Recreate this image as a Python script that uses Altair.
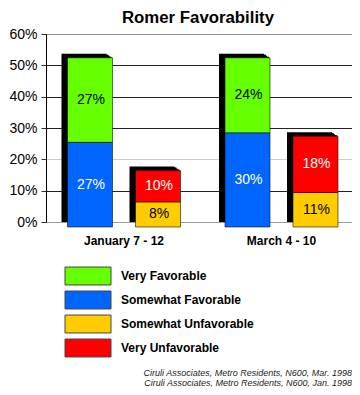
import altair as alt
import pandas as pd

FONT = "Liberation Sans"

title_text = "Romer Favorability"
dates = ["January 7 - 12", "March 4 - 10"]
categories = ["Very Favorable", "Somewhat Favorable", "Somewhat Unfavorable", "Very Unfavorable"]
very_favorable = [27, 24]
somewhat_favorable = [27, 30]
somewhat_unfavorable = [8, 11]
very_unfavorable = [10, 18]
colors = ["#66ff00", "#0066ff", "#ffcc00", "#ff0000"]
y_ticks = [0, 10, 20, 30, 40, 50, 60]
sources = [
    "Ciruli Associates, Metro Residents, N600,  Mar. 1998",
    "Ciruli Associates, Metro Residents, N600,  Jan. 1998",
]

series = {
    "Very Favorable": very_favorable,
    "Somewhat Favorable": somewhat_favorable,
    "Somewhat Unfavorable": somewhat_unfavorable,
    "Very Unfavorable": very_unfavorable,
}
group_of = {"Very Favorable": "fav", "Somewhat Favorable": "fav",
            "Somewhat Unfavorable": "unf", "Very Unfavorable": "unf"}
order_of = {"Somewhat Favorable": 0, "Very Favorable": 1,
            "Somewhat Unfavorable": 0, "Very Unfavorable": 1}

rows = []
for cat in categories:
    for d, v in zip(dates, series[cat]):
        rows.append({"date": d, "category": cat, "group": group_of[cat],
                     "order": order_of[cat], "value": v})
df = pd.DataFrame(rows)

x_enc = alt.X(
    "date:N", sort=dates,
    scale=alt.Scale(domain=dates, paddingInner=0.2, paddingOuter=0.0714, align=0.667),
    axis=alt.Axis(title=None, labelFont=FONT, labelFontSize=12, labelFontWeight="bold",
                  labelColor="black", labelPadding=13, ticks=False, domain=False,
                  labelAngle=0),
)
y_scale = alt.Scale(domain=[0, 60], nice=False, zero=True)
y_axis = alt.Axis(
    title=None, values=y_ticks, labelExpr="datum.value + '%'",
    labelFont=FONT, labelFontSize=14, labelColor="black", labelPadding=4,
    tickSize=5, tickColor="#333333", domainColor="black", domainWidth=1,
    grid=True,
    gridColor={"condition": {"test": "datum.value === 0 || datum.value === 20", "value": "#9a9a9a"},
               "value": "#222222"},
    gridDash={"condition": {"test": "datum.value === 20 || datum.value === 60", "value": [1, 1]},
              "value": []},
    gridWidth=1,
)
color_enc = alt.Color("category:N", scale=alt.Scale(domain=categories, range=colors), legend=None)

base = alt.Chart(df)
shadow_steps = [(-6, 1), (-5, 2), (-4, 2), (-3, 3), (-2, 4), (-1, 4)]
layers = []
for grp, xo in [("fav", -34), ("unf", 34)]:
    g = base.transform_filter(alt.datum.group == grp)
    for dx, dy in shadow_steps:
        layers.append(
            g.mark_bar(color="black", width=45, xOffset=xo + dx, yOffset=dy, y2Offset=dy)
            .encode(x=x_enc, y=alt.Y("sum(value):Q", scale=y_scale, axis=y_axis))
        )
    layers.append(
        g.mark_bar(width=45, xOffset=xo, yOffset=5, y2Offset=5, stroke="#111111",
                   strokeWidth=0.6)
        .encode(x=x_enc, y=alt.Y("value:Q", stack="zero", scale=y_scale, axis=y_axis),
                color=color_enc, order=alt.Order("order:Q"))
    )
    layers.append(
        g.transform_stack(stack="value", groupby=["date"], sort=[alt.SortField("order")],
                          as_=["v0", "v1"])
        .transform_calculate(mid="(datum.v0 + datum.v1) / 2", label="datum.value + '%'")
        .mark_text(xOffset=xo + 1, yOffset=5, font=FONT, fontSize=14)
        .encode(
            x=x_enc,
            y=alt.Y("mid:Q", scale=y_scale, axis=y_axis),
            text="label:N",
            color=alt.condition(
                "datum.category === 'Somewhat Favorable' || datum.category === 'Very Unfavorable'",
                alt.value("white"), alt.value("black")),
        )
    )

frame = alt.Chart(pd.DataFrame({"k": [0]})).mark_rule(color="#999999", strokeWidth=2).encode(
    x=alt.value(307), y=alt.value(0), y2=alt.value(189))
layers.append(frame)
bars_group = alt.layer(*layers)

leg_df = pd.DataFrame({"category": categories})
leg_y = alt.Y("category:N", sort=categories,
              scale=alt.Scale(type="point", domain=categories, range=[242, 314], padding=0),
              axis=None)
swatch = alt.Chart(leg_df).mark_point(
    shape="M-1,-0.39L1,-0.39L1,0.39L-1,0.39Z", size=2116, filled=True, opacity=1,
    stroke="#444444", strokeWidth=1,
).encode(x=alt.value(42), y=leg_y, color=color_enc)
leg_text = alt.Chart(leg_df).mark_text(
    align="left", baseline="middle", font=FONT, fontSize=12, fontWeight="bold", color="black",
).encode(x=alt.value(75), y=leg_y, text="category:N")
legend_group = alt.layer(swatch, leg_text)

source = alt.Chart(pd.DataFrame({"k": [0]})).mark_text(
    text=sources, align="right", baseline="alphabetic", font=FONT, fontSize=9,
    fontStyle="italic", lineHeight=9.5, color="#222222",
).encode(x=alt.value(306), y=alt.value(342))

title = alt.Chart(pd.DataFrame({"t": [title_text]})).mark_text(
    align="center", baseline="alphabetic", font=FONT, fontSize=16.8, fontWeight="bold",
    color="black",
).encode(x=alt.value(152), y=alt.value(-11), text="t:N")

chart = alt.layer(bars_group, legend_group, source, title).resolve_scale(y="independent").properties(
    width=306, height=188,
    padding={"left": 38, "top": 26, "right": 0, "bottom": 165},
    autosize=alt.AutoSizeParams(type="none"),
).configure_view(stroke=None)

chart.save("out.html", embed_options={"renderer": "svg", "actions": False})
